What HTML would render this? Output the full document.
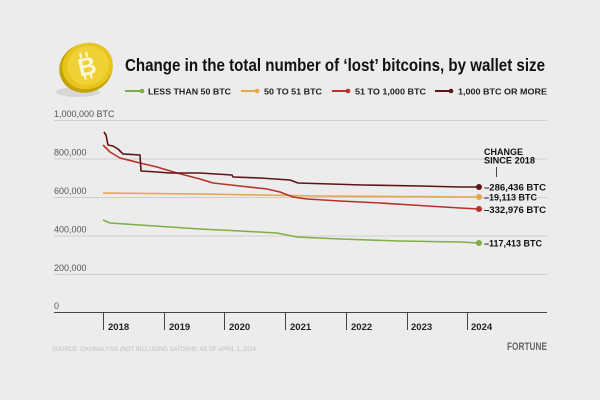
<!DOCTYPE html>
<html><head><meta charset="utf-8"><style>
html,body{margin:0;padding:0;background:#ececec;}
body{width:600px;height:400px;overflow:hidden;}
svg{display:block;}
</style></head><body>
<svg width="600" height="400" viewBox="0 0 600 400" xmlns="http://www.w3.org/2000/svg" font-family="Liberation Sans, sans-serif">
<rect width="600" height="400" fill="#ececec"/>
<!-- coin -->
<ellipse cx="78" cy="92" rx="22" ry="5" fill="#d6d6d6"/>
<ellipse cx="86" cy="68" rx="27" ry="24.5" fill="#c4a20a" transform="rotate(-20 86 68)"/>
<ellipse cx="87.5" cy="66" rx="25.5" ry="23" fill="#e8c51c" transform="rotate(-20 87.5 66)"/>
<ellipse cx="88" cy="65.5" rx="21" ry="19.5" fill="#efd035" transform="rotate(-20 88 65.5)"/>
<g transform="rotate(-12 87 66)" stroke="#fff7d6" stroke-width="2.2">
<line x1="83" y1="52" x2="83" y2="57"/>
<line x1="89" y1="52" x2="89" y2="57"/>
<line x1="83" y1="74" x2="83" y2="79"/>
<line x1="89" y1="74" x2="89" y2="79"/>
<text x="87" y="75" font-size="25" font-weight="bold" fill="#fff7d6" stroke="none" text-anchor="middle">B</text>
</g>
<!-- title -->
<text x="125" y="71" font-size="17.5" font-weight="bold" fill="#111" textLength="420" lengthAdjust="spacingAndGlyphs">Change in the total number of ‘lost’ bitcoins, by wallet size</text>
<!-- legend -->
<g font-size="8.5" font-weight="bold" fill="#222">
<line x1="125" y1="91" x2="142" y2="91" stroke="#7fae45" stroke-width="2"/><circle cx="142" cy="91" r="2.3" fill="#7fae45"/>
<text x="148" y="94.5" textLength="83" lengthAdjust="spacingAndGlyphs">LESS THAN 50 BTC</text>
<line x1="241" y1="91" x2="257" y2="91" stroke="#e6a64a" stroke-width="2"/><circle cx="257" cy="91" r="2.3" fill="#e6a64a"/>
<text x="264" y="94.5" textLength="58" lengthAdjust="spacingAndGlyphs">50 TO 51 BTC</text>
<line x1="332" y1="91" x2="348" y2="91" stroke="#b8322a" stroke-width="2"/><circle cx="348" cy="91" r="2.3" fill="#b8322a"/>
<text x="355" y="94.5" textLength="71" lengthAdjust="spacingAndGlyphs">51 TO 1,000 BTC</text>
<line x1="435" y1="91" x2="451" y2="91" stroke="#5e1414" stroke-width="2"/><circle cx="451" cy="91" r="2.3" fill="#5e1414"/>
<text x="458" y="94.5" textLength="89" lengthAdjust="spacingAndGlyphs">1,000 BTC OR MORE</text>
</g>
<!-- gridlines -->
<g stroke="#cfcfcf" stroke-width="1">
<line x1="54" y1="120.5" x2="547" y2="120.5"/>
<line x1="54" y1="159" x2="547" y2="159"/>
<line x1="54" y1="197.5" x2="547" y2="197.5"/>
<line x1="54" y1="236" x2="547" y2="236"/>
<line x1="54" y1="274.5" x2="547" y2="274.5"/>
</g>
<g font-size="9" fill="#555">
<text x="54" y="117">1,000,000 BTC</text>
<text x="54" y="155.5">800,000</text>
<text x="54" y="194">600,000</text>
<text x="54" y="232.5">400,000</text>
<text x="54" y="271">200,000</text>
<text x="54" y="309">0</text>
</g>
<!-- axis -->
<line x1="54" y1="312.5" x2="547" y2="312.5" stroke="#444" stroke-width="1"/>
<g stroke="#444" stroke-width="1">
<line x1="103.5" y1="312" x2="103.5" y2="330"/>
<line x1="164.5" y1="312" x2="164.5" y2="330"/>
<line x1="224.5" y1="312" x2="224.5" y2="330"/>
<line x1="285.5" y1="312" x2="285.5" y2="330"/>
<line x1="346.5" y1="312" x2="346.5" y2="330"/>
<line x1="407.5" y1="312" x2="407.5" y2="330"/>
<line x1="467.5" y1="312" x2="467.5" y2="330"/>
</g>
<g font-size="9.5" font-weight="bold" fill="#222">
<text x="108" y="330">2018</text>
<text x="169" y="330">2019</text>
<text x="229" y="330">2020</text>
<text x="290" y="330">2021</text>
<text x="351" y="330">2022</text>
<text x="411" y="330">2023</text>
<text x="471" y="330">2024</text>
</g>
<text x="52" y="351" font-size="6.5" fill="#bdbdbd" textLength="204" lengthAdjust="spacingAndGlyphs">SOURCE: CHAINALYSIS (NOT INCLUDING SATOSHI); AS OF APRIL 1, 2024</text>
<text x="547" y="350" font-size="11" font-weight="bold" fill="#666" text-anchor="end" textLength="40" lengthAdjust="spacingAndGlyphs">FORTUNE</text>
<!-- series -->
<g fill="none" stroke-width="1.6" stroke-linejoin="round">
<polyline stroke="#7fae45" points="103,220 110,223 140,225 170,227 200,229 240,231 277,233 297,237 340,239 400,241 460,242 479,243"/>
<polyline stroke="#e6a64a" points="103,193 150,193.5 200,194 260,195 320,196 400,196.5 479,197"/>
<polyline stroke="#b8322a" points="103,145 110,152 120,158 140,163 157,167 177,173 200,179 213,183 240,186 267,189 280,192 293,197 307,199 340,201 380,203 420,205.5 460,208 479,209"/>
<polyline stroke="#5e1414" points="104,132 106,135 108,145 113,146 118,149 123,154 140,155 141,171 157,172 170,173 200,173 232,175 233,177 260,178 290,180 298,183 363,185 420,186 460,187 479,187"/>
</g>
<circle cx="479" cy="243" r="3" fill="#7fae45"/>
<circle cx="479" cy="197" r="3" fill="#e6a64a"/>
<circle cx="479" cy="209" r="3" fill="#b8322a"/>
<circle cx="479" cy="187" r="3" fill="#5e1414"/>
<!-- annotations -->
<g font-size="9" font-weight="bold" fill="#111">
<text x="484" y="155" textLength="39" lengthAdjust="spacingAndGlyphs">CHANGE</text>
<text x="484" y="163.5" textLength="51" lengthAdjust="spacingAndGlyphs">SINCE 2018</text>
<text x="484" y="190.5" textLength="62" lengthAdjust="spacingAndGlyphs">–286,436 BTC</text>
<text x="484" y="200.5">–19,113 BTC</text>
<text x="484" y="213" textLength="62" lengthAdjust="spacingAndGlyphs">–332,976 BTC</text>
<text x="484" y="246.5">–117,413 BTC</text>
</g>
<line x1="496.5" y1="167" x2="496.5" y2="177" stroke="#444" stroke-width="1"/>
</svg>
</body></html>
